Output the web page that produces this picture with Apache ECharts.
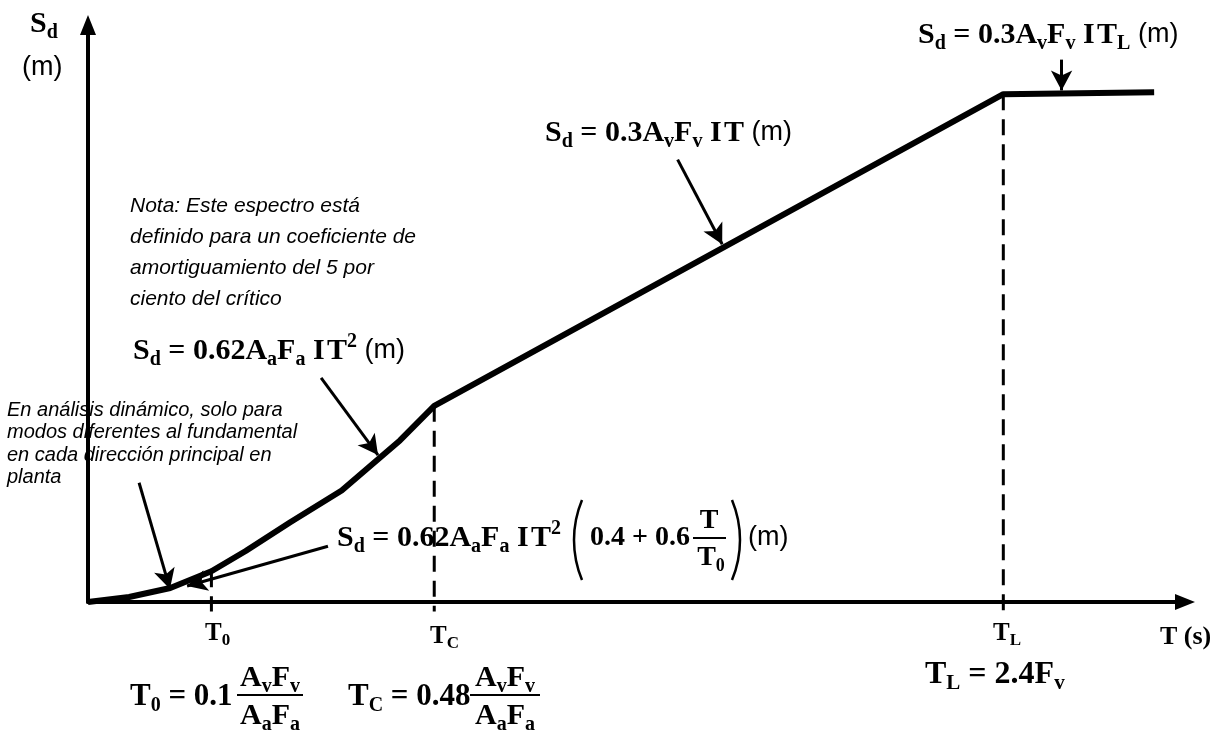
<!DOCTYPE html>
<html>
<head>
<meta charset="utf-8">
<script src="https://cdn.jsdelivr.net/npm/echarts@6/dist/echarts.min.js"></script>
<style>
  html, body { margin: 0; padding: 0; background: #fff; }
  #chart { width: 1225px; height: 745px; }
</style>
</head>
<body>
<div id="chart"></div>
<script>
// espectro de desplazamientos (escala esquematica: eje T 0..3.2, eje Sd 0..3.0)
var periodT  = [0, 0.12, 0.24, 0.36, 0.46, 0.59, 0.74, 0.91, 1.01, 2.67, 3.11];
var sdValues = [0, 0.026, 0.073, 0.16, 0.265, 0.415, 0.58, 0.84, 1.02, 2.64, 2.65];

// lineas discontinuas en T0, TC, TL
var guideT      = [0.36, 1.01, 2.67];
var guideTop    = [0.16, 1.02, 2.64];
var guideBottom = [-0.05, -0.05, -0.07];

// flechas de anotacion: desde -> hasta (T, Sd)
var arrowFrom = [[2.84, 2.82], [1.72, 2.30], [0.68, 1.165], [0.149, 0.62], [0.70, 0.29]];
var arrowTo   = [[2.84, 2.66], [1.85, 1.86], [0.846, 0.764], [0.239, 0.068], [0.289, 0.083]];

var SERIF = '"Liberation Serif","Times New Roman",serif';
var SANS = '"Liberation Sans",Arial,sans-serif';

function rich(fs) {
  var sub = Math.round(fs * 0.66);
  return {
    b: { fontFamily: SERIF, fontWeight: 'bold', fontSize: fs, fill: '#000' },
    s: { fontFamily: SERIF, fontWeight: 'bold', fontSize: sub, fill: '#000', padding: [Math.round(fs * 0.56), 0, 0, 0] },
    u: { fontFamily: SERIF, fontWeight: 'bold', fontSize: sub, fill: '#000', padding: [0, 0, Math.round(fs * 0.6), 0] },
    g: { fontFamily: SERIF, fontSize: 10, fill: '#000' },
    m: { fontFamily: SANS, fontSize: 27, fill: '#000' }
  };
}
function eq(x, y, fs, text, align) {
  return {
    type: 'text', x: x, y: y, silent: true,
    style: { text: text, rich: rich(fs), textAlign: align || 'left', textVerticalAlign: 'middle' }
  };
}
function bar(x1, x2, y) {
  return { type: 'line', silent: true, shape: { x1: x1, y1: y, x2: x2, y2: y }, style: { stroke: '#000', lineWidth: 2 } };
}
function paren(cx, cy, r, a0, a1) {
  return { type: 'arc', silent: true, shape: { cx: cx, cy: cy, r: r, startAngle: a0, endAngle: a1 },
           style: { stroke: '#000', lineWidth: 2.5, fill: null } };
}

var chart = echarts.init(document.getElementById('chart'));

var curve = periodT.map(function (t, i) { return [t, sdValues[i]]; });

var series = [{
  type: 'line',
  data: curve,
  symbol: 'none',
  clip: false,
  lineStyle: { color: '#000', width: 6 },
  markLine: {
    silent: true,
    symbol: ['none', 'arrow'],
    symbolSize: [16, 20],
    label: { show: false },
    lineStyle: { color: '#000', width: 3, type: 'solid' },
    data: arrowFrom.map(function (p, i) {
      return [{ coord: p }, { coord: arrowTo[i] }];
    })
  },
  z: 5
}];

guideT.forEach(function (t, i) {
  series.push({
    type: 'line',
    data: [[t, guideTop[i]], [t, guideBottom[i]]],
    symbol: 'none',
    clip: false,
    lineStyle: { color: '#000', width: 3, type: [16, 9] },
    z: 3
  });
});

var option = {
  animation: false,
  backgroundColor: '#fff',
  grid: { left: 88, right: 40, top: 25, bottom: 143 },
  xAxis: {
    type: 'value', min: 0, max: 3.2,
    axisLine: { show: true, onZero: false, symbol: ['none', 'triangle'], symbolSize: [16, 20],
                lineStyle: { color: '#000', width: 4 } },
    axisTick: { show: false }, axisLabel: { show: false }, splitLine: { show: false }
  },
  yAxis: {
    type: 'value', min: 0, max: 3.0,
    axisLine: { show: true, onZero: false, symbol: ['none', 'triangle'], symbolSize: [16, 20],
                lineStyle: { color: '#000', width: 4 } },
    axisTick: { show: false }, axisLabel: { show: false }, splitLine: { show: false }
  },
  series: series,
  graphic: [
    // ejes
    eq(30, 24, 30, '{b|S}{s|d}'),
    { type: 'text', x: 22, y: 68, silent: true,
      style: { text: '(m)', font: '27px ' + SANS, fill: '#000', textVerticalAlign: 'middle' } },
    eq(205, 634, 25, '{b|T}{s|0}'),
    eq(430, 637, 25, '{b|T}{s|C}'),
    eq(993, 634, 25, '{b|T}{s|L}'),
    eq(1160, 637, 26, '{b|T (s)}'),

    // formulas
    eq(918, 35, 30, '{b|S}{s|d}{b| = 0.3A}{s|v}{b|F}{s|v}{b| I}{g| }{b|T}{s|L}{m| (m)}'),
    eq(545, 133, 30, '{b|S}{s|d}{b| = 0.3A}{s|v}{b|F}{s|v}{b| I}{g| }{b|T}{m| (m)}'),
    eq(133, 351, 30, '{b|S}{s|d}{b| = 0.62A}{s|a}{b|F}{s|a}{b| I}{g| }{b|T}{u|2}{m| (m)}'),

    eq(337, 538, 30, '{b|S}{s|d}{b| = 0.62A}{s|a}{b|F}{s|a}{b| I}{g| }{b|T}{u|2}'),
    paren(678, 540, 104, Math.PI - 0.395, Math.PI + 0.395),
    eq(590, 538, 28, '{b|0.4 + 0.6}'),
    eq(709, 521, 28, '{b|T}', 'center'),
    bar(693, 726, 538),
    eq(711, 558, 28, '{b|T}{s|0}', 'center'),
    paren(636, 540, 104, -0.395, 0.395),
    eq(748, 538, 28, '{m|(m)}'),

    eq(130, 697, 31, '{b|T}{s|0}{b| = 0.1}'),
    eq(270, 678, 30, '{b|A}{s|v}{b|F}{s|v}', 'center'),
    bar(237, 303, 695),
    eq(270, 716, 30, '{b|A}{s|a}{b|F}{s|a}', 'center'),

    eq(348, 697, 31, '{b|T}{s|C}{b| = 0.48}'),
    eq(505, 678, 30, '{b|A}{s|v}{b|F}{s|v}', 'center'),
    bar(470, 540, 695),
    eq(505, 716, 30, '{b|A}{s|a}{b|F}{s|a}', 'center'),

    eq(925, 675, 32, '{b|T}{s|L}{b| = 2.4F}{s|v}'),

    // notas
    { type: 'text', x: 130, y: 191, silent: true,
      style: { text: 'Nota: Este espectro está\ndefinido para un coeficiente de\namortiguamiento del 5 por\nciento del crítico',
               font: 'italic 21px ' + SANS, lineHeight: 31, fill: '#000' } },
    { type: 'text', x: 7, y: 399, silent: true,
      style: { text: 'En análisis dinámico, solo para\nmodos diferentes al fundamental\nen cada dirección principal en\nplanta',
               font: 'italic 20px ' + SANS, lineHeight: 22.5, fill: '#000' } }
  ]
};

chart.setOption(option);
</script>
</body>
</html>
